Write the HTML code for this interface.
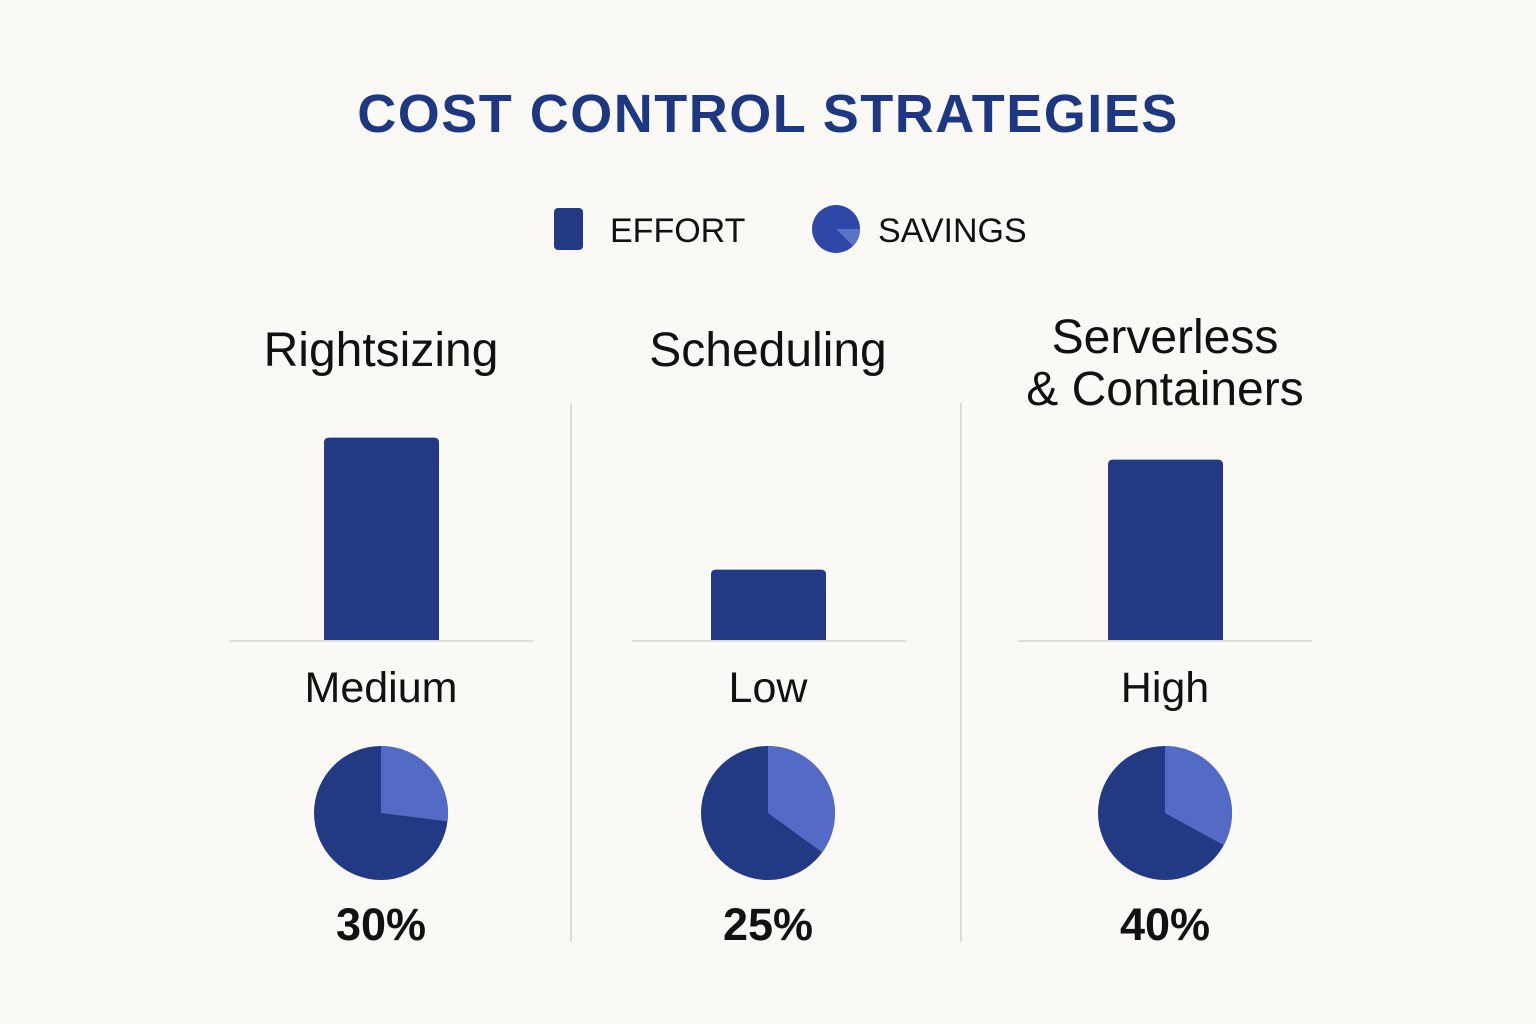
<!DOCTYPE html>
<html><head><meta charset="utf-8"><style>
html,body{margin:0;padding:0;background:#faf9f5;}
svg{display:block;font-family:"Liberation Sans","DejaVu Sans",sans-serif;}
</style></head><body>
<svg id="chart" width="1536" height="1024" viewBox="0 0 1536 1024">
<rect width="1536" height="1024" fill="#faf9f5"/>
<text x="768" y="132" text-anchor="middle" font-size="54" font-weight="bold" fill="#1e3783" letter-spacing="1.5">COST CONTROL STRATEGIES</text>
<g>
<rect x="554" y="208" width="29" height="42" rx="4" fill="#213a83"/>
<text x="610" y="242" font-size="34" fill="#111">EFFORT</text>
<circle cx="836" cy="229" r="24" fill="#2f48a8"/>
<path d="M836,229 L860,229 A24,24 0 0 1 853,246 Z" fill="#5a72c8"/>
<text x="878" y="242" font-size="34" fill="#111">SAVINGS</text>
</g>
<line x1="571" y1="403" x2="571" y2="942" stroke="#dcdcdc" stroke-width="2"/>
<line x1="961" y1="403" x2="961" y2="942" stroke="#dcdcdc" stroke-width="2"/>
<g id="marks"></g>
</svg>
<script>
const categories = ["Rightsizing", "Scheduling", "Serverless & Containers"];
const effortValues = [92, 32, 82];
const effortLabels = ["Medium", "Low", "High"];
const savingsSliceFractions = [0.27, 0.35, 0.33];
const savingsLabels = ["30%", "25%", "40%"];

const NS = "http://www.w3.org/2000/svg";
const g = document.getElementById("marks");
const centers = [381, 768, 1165];
const baseLines = [[230, 533], [632, 906], [1018, 1312]];
const baseY = 640, maxPx = 220;
function yScale(v) { return baseY - v / 100 * maxPx; }
function mk(tag, attrs, text) {
  const e = document.createElementNS(NS, tag);
  for (const k in attrs) e.setAttribute(k, attrs[k]);
  if (text !== undefined) e.textContent = text;
  g.appendChild(e);
  return e;
}
categories.forEach((c, i) => {
  const cx = centers[i];
  let t;
  if (c === "Serverless & Containers") {
    t = mk("text", {x: cx, y: 353, "text-anchor": "middle", "font-size": 48, fill: "#111"}, "Serverless");
    
    
    t = mk("text", {x: cx, y: 405, "text-anchor": "middle", "font-size": 48, fill: "#111"}, "& Containers");
    
    
  } else {
    t = mk("text", {x: cx, y: 366, "text-anchor": "middle", "font-size": 48, fill: "#111"}, c);
    
    
  }
  const bl = mk("line", {x1: baseLines[i][0], x2: baseLines[i][1], y1: baseY + 1, y2: baseY + 1, stroke: "#dddddd", "stroke-width": 2});
  
  
  const top = yScale(effortValues[i]);
  const bar = mk("path", {d: `M${cx-57},${baseY} L${cx-57},${top+5} Q${cx-57},${top} ${cx-52},${top} L${cx+53},${top} Q${cx+58},${top} ${cx+58},${top+5} L${cx+58},${baseY} Z`, fill: "#213a83"});
  
  
  const lv = mk("text", {x: cx, y: 702, "text-anchor": "middle", "font-size": 43, fill: "#111"}, effortLabels[i]);
  
  
  const pcx = cx, pcy = 813, r = 67;
  const pie = mk("circle", {cx: pcx, cy: pcy, r: r, fill: "#213a83"});
  
  
  const a = savingsSliceFractions[i] * 2 * Math.PI;
  const ex = pcx + r * Math.sin(a), ey = pcy - r * Math.cos(a);
  const sl = mk("path", {d: `M${pcx},${pcy} L${pcx},${pcy-r} A${r},${r} 0 ${a > Math.PI ? 1 : 0} 1 ${ex},${ey} Z`, fill: "#536bc4"});
  
  
  const pl = mk("text", {x: cx, y: 940, "text-anchor": "middle", "font-size": 45, "font-weight": "bold", fill: "#111"}, savingsLabels[i]);
  
  
});
</script>
</body></html>
